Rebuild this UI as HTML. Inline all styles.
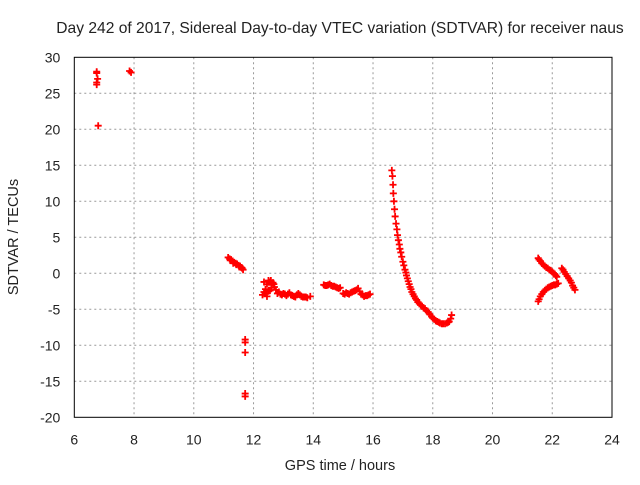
<!DOCTYPE html>
<html><head><meta charset="utf-8"><style>
body{margin:0;background:#fff;}
svg text{font-family:"Liberation Sans",sans-serif;fill:#222;}
</style></head><body>
<svg id="c" width="640" height="480" xmlns="http://www.w3.org/2000/svg">
<text x="340" y="33" font-size="15.6" text-anchor="middle">Day 242 of 2017, Sidereal Day-to-day VTEC variation (SDTVAR) for receiver naus</text>
<text x="340" y="470" font-size="14.5" text-anchor="middle">GPS time / hours</text>
<text x="18" y="237" font-size="14.5" text-anchor="middle" transform="rotate(-90 18 237)">SDTVAR / TECUs</text>
<g id="grid"></g><g id="marks"></g>
<rect x="74.3" y="57.3" width="537.7" height="360" fill="none" stroke="#000" stroke-width="1"/>
</svg>
<script>
const xTicks=[6,8,10,12,14,16,18,20,22,24];
const yTicks=[-20,-15,-10,-5,0,5,10,15,20,25,30];
const timeH=[6.75,6.75,6.78,6.75,6.75,6.8,7.85,7.9,
11.15,11.2,11.25,11.3,11.35,11.4,11.45,11.5,11.55,11.6,11.65,11.22,11.32,11.42,11.52,11.62,
11.72,11.72,11.72,11.72,11.72,
12.3,12.35,12.4,12.45,12.5,12.55,12.6,12.65,12.7,12.75,12.8,12.85,12.9,13.0,13.1,13.2,13.3,13.4,13.5,13.6,13.7,13.8,13.9,12.4,12.5,12.6,12.45,12.55,12.35,12.95,13.05,13.15,13.25,13.35,13.45,13.55,13.65,13.75,12.58,12.68,
14.35,14.45,14.55,14.65,14.75,14.85,14.9,14.4,14.5,14.6,14.7,14.8,
15.0,15.1,15.2,15.3,15.4,15.5,15.55,15.6,15.7,15.8,15.9,15.05,15.15,15.25,15.35,15.45,15.65,15.75,15.85,
16.63,16.65,16.67,16.68,16.7,16.72,16.74,16.77,16.8,16.85,16.9,16.96,17.0,17.07,17.12,17.18,17.24,17.3,17.38,17.46,17.55,17.64,17.74,17.85,17.96,18.05,18.15,18.24,18.35,18.47,18.55,18.6,18.63,
16.82,16.88,16.93,17.03,17.1,17.15,17.21,17.27,17.34,17.42,17.5,17.6,17.69,17.79,17.9,18.0,18.1,18.2,18.3,18.41,18.52,
21.53,21.6,21.7,21.8,21.9,22.0,22.08,22.15,21.56,21.65,21.75,21.85,21.95,22.04,22.12,
21.53,21.6,21.7,21.8,21.9,22.0,22.1,22.2,21.56,21.65,21.75,21.85,21.95,22.05,22.15,
22.32,22.4,22.5,22.6,22.68,22.76,22.36,22.45,22.55,22.64,22.72];
const sdtvar=[28.0,27.8,27.0,26.5,26.2,20.5,28.1,27.9,
2.2,2.0,1.9,1.7,1.5,1.4,1.3,1.1,1.0,0.8,0.5,1.8,1.4,1.2,0.9,0.7,
-9.2,-9.6,-11.0,-16.7,-17.1,
-3.0,-2.6,-2.2,-1.5,-1.0,-1.2,-1.6,-1.3,-1.9,-2.3,-2.8,-2.6,-2.9,-2.8,-3.1,-2.7,-3.1,-3.3,-2.8,-3.2,-3.3,-3.4,-3.2,-2.8,-2.5,-2.0,-3.2,-2.4,-1.2,-3.0,-2.9,-2.9,-3.0,-3.2,-3.0,-3.0,-3.3,-3.3,-1.0,-1.5,
-1.6,-1.7,-1.5,-1.8,-1.9,-2.1,-2.0,-1.7,-1.6,-1.7,-1.8,-2.0,
-2.8,-2.7,-2.9,-2.6,-2.4,-2.1,-2.5,-2.9,-3.2,-3.1,-2.9,-2.9,-2.8,-2.7,-2.5,-2.3,-3.0,-3.1,-3.0,
14.3,13.5,12.3,11.1,10.0,8.9,7.9,6.9,6.1,4.6,3.4,2.3,1.6,0.5,-0.3,-1.1,-1.9,-2.6,-3.2,-3.7,-4.2,-4.6,-4.9,-5.4,-6.0,-6.4,-6.7,-6.9,-7.0,-6.9,-6.7,-6.3,-5.8,
5.3,4.0,2.9,1.1,0.1,-0.7,-1.5,-2.2,-2.9,-3.5,-4.0,-4.4,-4.8,-5.2,-5.7,-6.2,-6.6,-6.8,-7.0,-7.0,-6.8,
2.1,1.7,1.2,0.8,0.5,0.2,-0.1,-0.5,1.9,1.4,1.0,0.7,0.4,0.0,-0.3,
-3.9,-3.2,-2.6,-2.2,-1.9,-1.7,-1.6,-1.4,-3.6,-2.9,-2.4,-2.0,-1.8,-1.6,-1.5,
0.7,0.2,-0.4,-1.0,-1.7,-2.3,0.5,-0.1,-0.7,-1.3,-2.0];
const X0=74.3,X1=612,Y0=417.3,Y1=57.3;
function sx(v){return X0+(v-6)/18*(X1-X0);}
function sy(v){return Y0-(v+20)/50*(Y0-Y1);}
const NS="http://www.w3.org/2000/svg";
const grid=document.getElementById('grid'),marks=document.getElementById('marks'),svg=document.getElementById('c');
xTicks.forEach(t=>{const x=sx(t);
 if(t>6&&t<24){const l=document.createElementNS(NS,'line');
 l.setAttribute('x1',x);l.setAttribute('x2',x);l.setAttribute('y1',Y1);l.setAttribute('y2',Y0);
 l.setAttribute('stroke','#999');l.setAttribute('stroke-dasharray','2,3');
 
 grid.appendChild(l);}
 const tx=document.createElementNS(NS,'text');tx.setAttribute('x',x);tx.setAttribute('y',Y0+27);
 tx.setAttribute('font-size','14');tx.setAttribute('text-anchor','middle');tx.textContent=t;
 
 svg.appendChild(tx);});
yTicks.forEach(t=>{const y=sy(t);
 if(t>-20&&t<30){const l=document.createElementNS(NS,'line');
 l.setAttribute('x1',X0);l.setAttribute('x2',X1);l.setAttribute('y1',y);l.setAttribute('y2',y);
 l.setAttribute('stroke','#999');l.setAttribute('stroke-dasharray','2,3');
 
 grid.appendChild(l);}
 const tx=document.createElementNS(NS,'text');tx.setAttribute('x',X0-14);tx.setAttribute('y',y+5);
 tx.setAttribute('font-size','14');tx.setAttribute('text-anchor','end');tx.textContent=t;
 
 svg.appendChild(tx);});
timeH.forEach((t,i)=>{const x=sx(t),y=sy(sdtvar[i]);
 const p=document.createElementNS(NS,'path');
 p.setAttribute('d',`M${x-3.5},${y}H${x+3.5}M${x},${y-3.5}V${y+3.5}`);
 p.setAttribute('stroke','#f00');p.setAttribute('stroke-width','1.8');
 
 marks.appendChild(p);});
</script>
</body></html>
